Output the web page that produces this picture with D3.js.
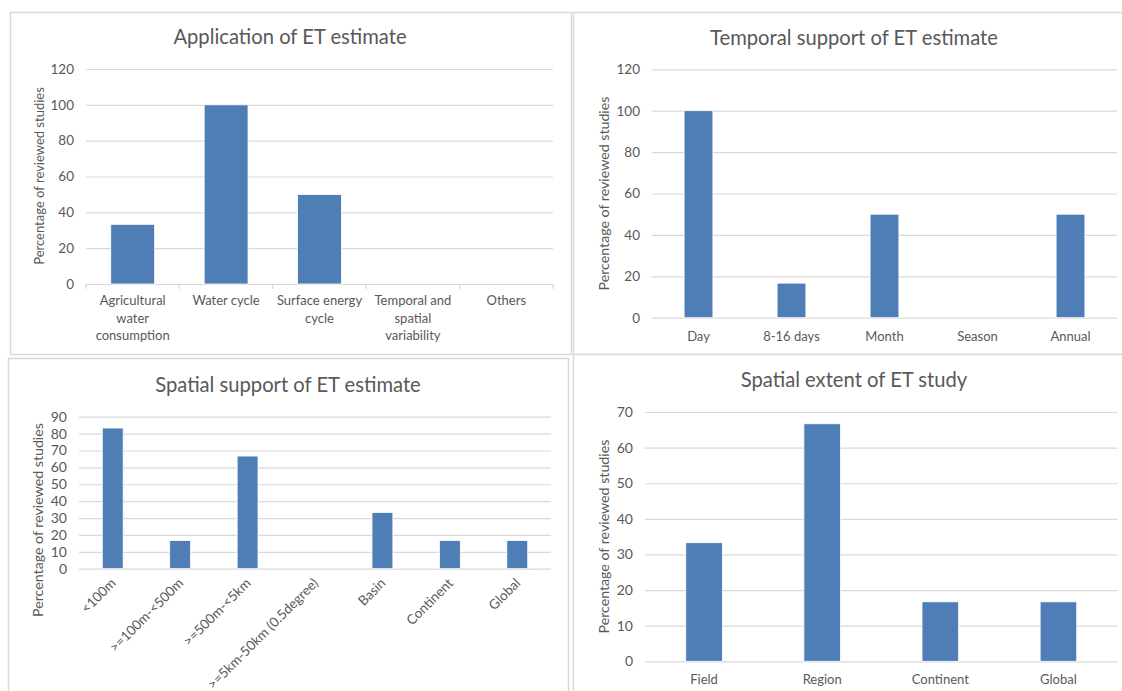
<!DOCTYPE html>
<html>
<head>
<meta charset="utf-8">
<script src="https://cdn.jsdelivr.net/npm/d3@7"></script>
<style>
  html, body { margin: 0; padding: 0; background: #ffffff; }
  svg { display: block; }
  text { font-family: Lato, "Open Sans", sans-serif; fill: #595959; }
</style>
</head>
<body>
<svg id="chart" width="1122" height="691"></svg>
<script>
// ---- data ----
const applicationCategories = [["Agricultural", "water", "consumption"], ["Water cycle"], ["Surface energy", "cycle"], ["Temporal and", "spatial", "variability"], ["Others"]];
const applicationValues = [33.3, 100, 50, 0, 0];
const applicationTicks = [0, 20, 40, 60, 80, 100, 120];

const temporalCategories = [["Day"], ["8-16 days"], ["Month"], ["Season"], ["Annual"]];
const temporalValues = [100, 16.7, 50, 0, 50];
const temporalTicks = [0, 20, 40, 60, 80, 100, 120];

const spatialSupportCategories = ["<100m", ">=100m-<500m", ">=500m-<5km", ">=5km-50km (0.5degree)", "Basin", "Continent", "Global"];
const spatialSupportValues = [83.3, 16.7, 66.7, 0, 33.3, 16.7, 16.7];
const spatialSupportTicks = [0, 10, 20, 30, 40, 50, 60, 70, 80, 90];

const spatialExtentCategories = [["Field"], ["Region"], ["Continent"], ["Global"]];
const spatialExtentValues = [33.3, 66.7, 16.7, 16.7];
const spatialExtentTicks = [0, 10, 20, 30, 40, 50, 60, 70];

const yTitle = "Percentage of reviewed studies";

// ---- layout of the four panels ----
const panels = [
  {
    title: "Application of ET estimate", cats: applicationCategories, vals: applicationValues, ticks: applicationTicks,
    box: [10, 12, 571, 354], titleX: 290, titleY: 43.5,
    x0: 86, x1: 553, y0: 284, y1: 69, barRatio: 0.47, catTicks: true,
    yTitleX: 39, yTitleY: 176, yTitleSize: 13, tickSize: 13.5, labelY: 305, rotate: false
  },
  {
    title: "Temporal support of ET estimate", cats: temporalCategories, vals: temporalValues, ticks: temporalTicks,
    box: [573, 12, 1130, 354], titleX: 854, titleY: 44.5,
    x0: 652, x1: 1117, y0: 317.7, y1: 69.3, barRatio: 0.31, catTicks: false,
    yTitleX: 604, yTitleY: 193.5, yTitleSize: 14.2, tickSize: 13.5, labelY: 340.5, rotate: false
  },
  {
    title: "Spatial support of ET estimate", cats: spatialSupportCategories, vals: spatialSupportValues, ticks: spatialSupportTicks,
    box: [8, 358, 568, 700], titleX: 288, titleY: 392,
    x0: 79, x1: 551, y0: 568.7, y1: 416.7, barRatio: 0.31, catTicks: false,
    yTitleX: 38.5, yTitleY: 520, yTitleSize: 14.2, tickSize: 14, labelY: 584, rotate: true
  },
  {
    title: "Spatial extent of ET study", cats: spatialExtentCategories, vals: spatialExtentValues, ticks: spatialExtentTicks,
    box: [573, 354, 1130, 700], titleX: 854, titleY: 387,
    x0: 645, x1: 1117.5, y0: 661.3, y1: 412, barRatio: 0.31, catTicks: false,
    yTitleX: 604, yTitleY: 536.6, yTitleSize: 14.2, tickSize: 14, labelY: 683.5, rotate: false
  }
];

const svg = d3.select("#chart");

panels.forEach(p => {
  const g = svg.append("g");

  // panel frame
  g.append("rect")
    .attr("x", p.box[0] + 0.5).attr("y", p.box[1] + 0.5)
    .attr("width", p.box[2] - p.box[0]).attr("height", p.box[3] - p.box[1])
    .attr("fill", "#ffffff").attr("stroke", "#d9d9d9").attr("stroke-width", 1.5);

  // title
  g.append("text")
    .attr("x", p.titleX).attr("y", p.titleY)
    .attr("text-anchor", "middle")
    .style("font-size", "20.2px")
    .text(p.title);

  const keys = p.vals.map((d, i) => i);
  const pad = 1 - p.barRatio;
  const x = d3.scaleBand().domain(keys).range([p.x0, p.x1])
    .paddingInner(pad).paddingOuter(pad / 2);
  const y = d3.scaleLinear()
    .domain([0, p.ticks[p.ticks.length - 1]])
    .range([p.y0, p.y1]);

  // horizontal gridlines + value labels
  const yAxis = d3.axisLeft(y).tickValues(p.ticks).tickSize(-(p.x1 - p.x0)).tickPadding(12);
  const ya = g.append("g").attr("transform", `translate(${p.x0},0)`).call(yAxis);
  ya.select(".domain").remove();
  ya.selectAll(".tick line").attr("stroke", "#d9d9d9").attr("stroke-width", 1.2);
  ya.selectAll(".tick text")
    .style("font-size", p.tickSize + "px").style("font-family", "Lato, 'Open Sans', sans-serif")
    .attr("fill", "#595959");

  // category tick marks on the base line
  if (p.catTicks) {
    const bounds = d3.range(p.vals.length + 1).map(i => p.x0 + i * (p.x1 - p.x0) / p.vals.length);
    g.selectAll(".ctick").data(bounds).enter().append("line")
      .attr("x1", d => d).attr("x2", d => d)
      .attr("y1", p.y0).attr("y2", p.y0 + 5)
      .attr("stroke", "#d9d9d9").attr("stroke-width", 1.2);
  }

  // bars
  g.selectAll(".bar").data(p.vals).enter().append("rect")
    .attr("x", (d, i) => x(i))
    .attr("y", d => y(d))
    .attr("width", x.bandwidth())
    .attr("height", d => y(0) - y(d))
    .attr("fill", "#4f7eb7")
    .attr("stroke", "#ffffff").attr("stroke-width", 0.8)
    .style("display", d => d > 0 ? null : "none");

  // category labels
  const cx = i => x(i) + x.bandwidth() / 2;
  if (p.rotate) {
    g.selectAll(".cat").data(p.cats).enter().append("text")
      .attr("transform", (d, i) => `translate(${cx(i) + 4},${p.labelY}) rotate(-45)`)
      .attr("text-anchor", "end")
      .style("font-size", "13.5px")
      .text(d => d);
  } else {
    p.cats.forEach((lines, i) => {
      const t = g.append("text")
        .attr("x", cx(i)).attr("y", p.labelY)
        .attr("text-anchor", "middle")
        .style("font-size", "13px");
      lines.forEach((ln, j) => {
        t.append("tspan").attr("x", cx(i)).attr("dy", j === 0 ? 0 : 17.5).text(ln);
      });
    });
  }

  // vertical axis title
  g.append("text")
    .attr("transform", `translate(${p.yTitleX + 4.5},${p.yTitleY}) rotate(-90)`)
    .attr("text-anchor", "middle")
    .style("font-size", p.yTitleSize + "px")
    .text(yTitle);
});
</script>
</body>
</html>
